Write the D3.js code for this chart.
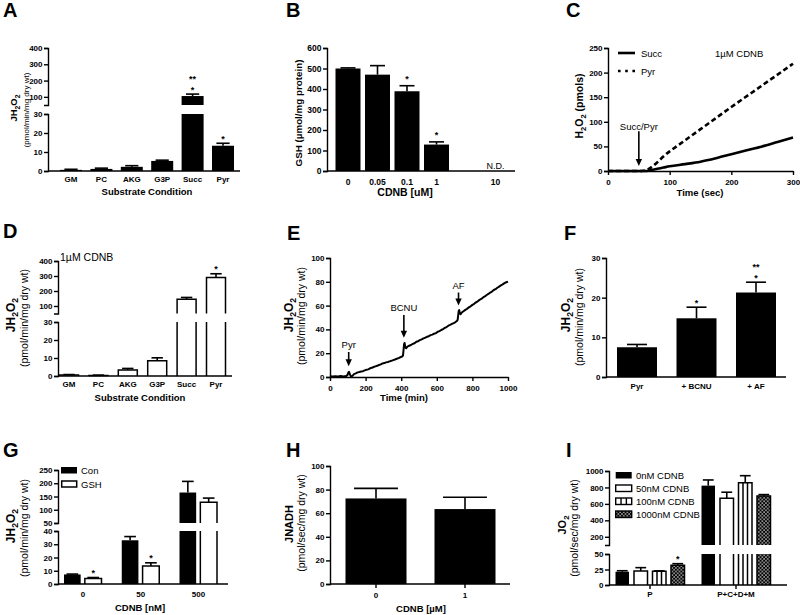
<!DOCTYPE html>
<html><head><meta charset="utf-8">
<script src="https://cdn.jsdelivr.net/npm/d3@7/dist/d3.min.js"></script>
<style>
html,body{margin:0;padding:0;background:#fff;}
svg text{font-family:"Liberation Sans",Arial,Helvetica,sans-serif;}
</style></head><body>
<svg id="chart" width="800" height="615"></svg>
<script>
// ================= DATA =================
// A
const aCats = ["GM","PC","AKG","G3P","Succ","Pyr"];
const aVals = [0.6, 1.1, 2.2, 5.3, 105, 13.3];
const aErrs = [0.3, 0.4, 0.6, 0.4, 12, 1.3];
const aSig  = ["","","","","*|**","*"];
const aLowTicks = [0,10,20,30];
const aUpTicks  = [100,200,300,400];
// B
const bCats = ["0","0.05","0.1","1","10"];
const bVals = [500, 470, 389, 129, null];
const bErrs = [3, 44, 27, 13, null];
const bSig  = ["","","*","*",""];
const bTicks = [0,100,200,300,400,500,600];
// C
const cSucc = [[0,0],[60,0],[65,0.5],[70,2],[80,4.5],[90,7],[100,9.5],[125,14],[150,19],[175,26],[200,34],[225,42],[250,50],[275,59],[300,68]];
const cPyr  = [[0,0],[55,0],[100,40],[150,85],[200,130],[250,174],[300,218]];
const cLegend = ["Succ","Pyr"];
const cXTicks = [0,100,200,300];
const cYTicks = [0,50,100,150,200,250];
const cArrow = {label:"Succ/Pyr", t:50, from:81, to:10};
// D
const dCats = ["GM","PC","AKG","G3P","Succ","Pyr"];
const dVals = [0.5, 0.3, 3.3, 8.5, 145, 290];
const dErrs = [0.3, 0.2, 0.9, 1.6, 12, 25];
const dSig  = ["","","","","","*"];
const dLowTicks = [0,10,20,30];
const dUpTicks  = [100,200,300,400];
// E
const eTrace = [[0,0.6],[15,0.4],[30,0.7],[45,0.5],[60,0.9],[75,0.4],[90,0.8],[98,1.6],[103,3.8],[107,4.3],[112,2.2],[118,0.4],[126,0.9],[135,2.4],[145,3.0],[155,3.9],[165,4.2],[175,4.6],[185,4.9],[195,5.6],[205,6.1],[215,6.4],[225,7.3],[235,7.7],[245,8.4],[255,8.9],[265,9.4],[275,10.1],[285,10.6],[295,11.4],[305,11.7],[315,12.3],[325,12.6],[335,13.1],[345,13.6],[355,14.2],[365,14.7],[375,15.3],[385,15.9],[395,16.6],[405,17.2],[410,18.0],[413,22.5],[416,27.5],[419,28.6],[423,25.0],[428,24.2],[435,25.6],[445,26.3],[455,26.9],[465,27.8],[475,28.4],[485,29.6],[495,30.1],[505,31.0],[515,31.6],[525,32.5],[535,33.0],[545,33.8],[555,34.3],[565,35.2],[575,35.6],[585,36.4],[595,36.9],[605,38.0],[615,38.6],[625,39.5],[635,40.3],[645,41.2],[655,42.0],[665,43.1],[675,43.8],[685,44.6],[695,45.3],[705,46.2],[712,46.9],[717,48.0],[720,51.5],[723,55.5],[726,56.2],[729,53.4],[734,52.8],[740,54.2],[750,55.3],[760,56.4],[770,57.3],[780,58.5],[790,59.4],[800,60.6],[810,61.5],[820,62.7],[830,63.6],[840,64.8],[850,65.6],[860,66.9],[870,67.7],[880,68.9],[890,69.8],[900,71.0],[910,71.8],[920,73.1],[930,73.8],[940,75.0],[950,75.9],[960,77.0],[970,77.8],[980,78.9],[990,79.6],[1000,80.2]];
const eEvents = ["Pyr","BCNU","AF"];
const eEventTime = [105, 415, 722];
const eArrowFrom = [21, 52, 71];
const eArrowTo   = [9, 33, 60];
const eXTicks = [0,200,400,600,800,1000];
const eYTicks = [0,20,40,60,80,100];
// F
const fCats = ["Pyr","+ BCNU","+ AF"];
const fVals = [7.5, 14.8, 21.3];
const fErrs = [0.7, 2.8, 2.6];
const fSig  = ["","*","*|**"];
const fTicks = [0,10,20,30];
// G
const gCats = ["0","50","500"];
const gSeries = ["Con","GSH"];
const gCon    = [7.2, 33, 165];
const gConErr = [0.3, 2.8, 42];
const gGsh    = [4.1, 13.5, 128];
const gGshErr = [0.8, 2.5, 16];
const gGshSig = ["*","*",""];
const gLowTicks = [0,10,20,30,40];
const gUpTicks  = [50,100,150,200,250];
// H
const hCats = ["0","1"];
const hVals = [72.5, 63.5];
const hErrs = [8.5, 10];
const hTicks = [0,20,40,60,80,100];
// I
const iCats = ["P","P+C+D+M"];
const iSeries = ["0nM CDNB","50nM CDNB","100nM CDNB","1000nM CDNB"];
const iP       = [21.4, 22.6, 22, 31.7];
const iPErr    = [1.6, 5.4, 0.8, 2.7];
const iPCDM    = [822, 669, 858, 697];
const iPCDMErr = [69, 73, 85, 16];
const iPSig    = ["","","","*"];
const iLowTicks = [0,25,50];
const iUpTicks  = [200,400,600,800,1000];

// ================= HELPERS =================
const FONT = '"Liberation Sans", Arial, sans-serif';
const svg = d3.select("#chart");
const defs = svg.append("defs");
const pat = defs.append("pattern").attr("id","xhatch").attr("patternUnits","userSpaceOnUse").attr("width",3.6).attr("height",3.6);
pat.append("rect").attr("width",3.6).attr("height",3.6).attr("fill","#000");
pat.append("rect").attr("x",0.3).attr("y",0.3).attr("width",1.3).attr("height",1.3).attr("fill","#fff");
pat.append("rect").attr("x",2.1).attr("y",2.1).attr("width",1.3).attr("height",1.3).attr("fill","#fff");

const SW = 1.4;
function T(x, y, s, o = {}) {
  return svg.append("text").attr("x", x).attr("y", y).text(s)
    .attr("font-family", FONT)
    .attr("font-size", o.size || 9).attr("font-weight", o.bold ? "bold" : "normal")
    .attr("text-anchor", o.anchor || "start").attr("fill", "#000");
}
function rotLabel(x, cy, parts, size, bold) {
  const t = svg.append("text").attr("transform", `translate(${x},${cy}) rotate(-90)`)
    .attr("text-anchor", "middle").attr("font-family", FONT)
    .attr("font-size", size).attr("font-weight", bold ? "bold" : "normal").attr("fill", "#000");
  let sub = false;
  parts.forEach(p => {
    const ts = t.append("tspan").text(p.t);
    if (p.sub) ts.attr("font-size", size * 0.72);
    if (p.sub && !sub) ts.attr("dy", size * 0.28);
    if (!p.sub && sub) ts.attr("dy", -size * 0.28);
    sub = !!p.sub;
  });
  return t;
}
function styleAxis(g, fs) {
  g.attr("font-family", FONT);
  g.select(".domain").attr("stroke", "#000").attr("stroke-width", SW);
  g.selectAll(".tick line").attr("stroke", "#000").attr("stroke-width", SW);
  g.selectAll(".tick text").attr("font-size", fs || 8).attr("font-weight", "bold").attr("fill", "#000").attr("font-family", FONT);
}
function yAxis(x, scale, ticks, fs) {
  const g = svg.append("g").attr("transform", `translate(${x},0)`)
    .call(d3.axisLeft(scale).tickValues(ticks).tickSize(4).tickSizeOuter(4).tickPadding(1.5).tickFormat(d3.format("d")));
  styleAxis(g, fs);
  return g;
}
function xAxisNum(y, scale, ticks, fs) {
  const g = svg.append("g").attr("transform", `translate(0,${y})`)
    .call(d3.axisBottom(scale).tickValues(ticks).tickSize(4).tickSizeOuter(0).tickPadding(4).tickFormat(d3.format("d")));
  styleAxis(g, fs);
  return g;
}
function xLine(x0, x1, y) {
  svg.append("line").attr("x1", x0).attr("x2", x1).attr("y1", y).attr("y2", y)
    .attr("stroke", "#000").attr("stroke-width", SW);
}
function xTick(x, y) {
  svg.append("line").attr("x1", x).attr("x2", x).attr("y1", y).attr("y2", y + 4)
    .attr("stroke", "#000").attr("stroke-width", SW);
}
function vY(v, segs) {
  for (const sg of segs) if (v <= sg.hi) return sg.s(Math.max(v, sg.lo));
  const l = segs[segs.length - 1]; return l.s(v);
}
function bar(cx, w, v, err, segs, style, capFrac) {
  if (v == null) return;
  const x0 = cx - w / 2;
  segs.forEach(sg => {
    if (v <= sg.lo) return;
    const isTop = v <= sg.hi;
    const top = sg.s(Math.min(v, sg.hi)), bot = sg.s(sg.lo);
    if (style === "black") {
      svg.append("rect").attr("x", x0).attr("y", top).attr("width", w).attr("height", bot - top).attr("fill", "#000");
    } else {
      const fill = style === "hatch" ? "url(#xhatch)" : "#fff";
      svg.append("rect").attr("x", x0).attr("y", top).attr("width", w).attr("height", bot - top).attr("fill", fill);
      if (style === "stripes") {
        [1/3, 2/3].forEach(f => svg.append("line").attr("x1", x0 + w*f).attr("x2", x0 + w*f)
          .attr("y1", top).attr("y2", bot).attr("stroke", "#000").attr("stroke-width", 1.5));
      }
      const p = `M${x0},${bot}V${top}` + (isTop ? `H${x0 + w}` : `M${x0 + w},${top}`) + `V${bot}`;
      svg.append("path").attr("d", p).attr("fill", "none").attr("stroke", "#000").attr("stroke-width", 1.5);
    }
  });
  if (err) {
    const y0 = vY(v, segs), y1 = vY(v + err, segs);
    const cw = w * capFrac;
    svg.append("line").attr("x1", cx).attr("x2", cx).attr("y1", y0).attr("y2", y1).attr("stroke", "#000").attr("stroke-width", 1.6);
    svg.append("line").attr("x1", cx - cw / 2).attr("x2", cx + cw / 2).attr("y1", y1).attr("y2", y1).attr("stroke", "#000").attr("stroke-width", 1.6);
  }
}
// significance marks, bottom line first in data
function stars(cx, yTop, sig) {
  if (!sig) return;
  sig.split("|").forEach((s, k) => T(cx, yTop - 1.5 - k * 10.3, s, {size: 9, bold: true, anchor: "middle"}));
}
function arrow(x, y0, y1) {
  svg.append("line").attr("x1", x).attr("x2", x).attr("y1", y0).attr("y2", y1 - 5)
    .attr("stroke", "#000").attr("stroke-width", 1.6);
  svg.append("path").attr("d", `M${x - 3.2},${y1 - 7}L${x + 3.2},${y1 - 7}L${x},${y1}Z`).attr("fill", "#000");
}
const JH2O2 = [{t:"JH"},{t:"2",sub:1},{t:"O"},{t:"2",sub:1}];

// ================= PANEL A =================
{
  const x = d3.scalePoint().domain(aCats).range([71, 223]);
  const low = d3.scaleLinear().domain([0, 30]).range([171, 114]);
  const up = d3.scaleLinear().domain([50, 400]).range([105, 48]);
  const segs = [{s: low, lo: 0, hi: 30}, {s: up, lo: 50, hi: 400}];
  aCats.forEach((c, i) => {
    bar(x(c), 22, aVals[i], aErrs[i], segs, "black", 0.6);
    stars(x(c), vY(aVals[i] + aErrs[i], segs), aSig[i]);
  });
  yAxis(48, low, aLowTicks, 8); yAxis(48, up, aUpTicks, 8);
  xLine(48, 240, 171);
  aCats.forEach(c => T(x(c), 182, c, {size: 8, bold: true, anchor: "middle"}));
  T(147, 195, "Substrate Condition", {size: 9.5, bold: true, anchor: "middle"});
  rotLabel(17, 108, JH2O2, 9.5, true);
  rotLabel(28.5, 110, [{t:"(pmol/min/mg dry wt)"}], 8, false);
  T(3, 17, "A", {size: 20, bold: true});
}
// ================= PANEL B =================
{
  // an empty slot sits between "1" and "10" on the category axis
  const slots = bCats.slice(0, 4).concat([" "], bCats.slice(4));
  const x = d3.scalePoint().domain(slots).range([348, 495.5]);
  const y = d3.scaleLinear().domain([0, 600]).range([171, 48]);
  const segs = [{s: y, lo: 0, hi: 600}];
  bCats.forEach((c, i) => {
    if (bVals[i] == null) { T(x(c), 169, "N.D.", {size: 9, anchor: "middle"}); return; }
    bar(x(c), 25, bVals[i], bErrs[i], segs, "black", 0.6);
    stars(x(c), vY(bVals[i] + bErrs[i], segs) - 2, bSig[i]);
  });
  yAxis(327, y, bTicks, 8.5);
  xLine(327, 515, 171);
  bCats.forEach(c => T(x(c), 185, c, {size: 8.5, bold: true, anchor: "middle"}));
  T(405, 196, "CDNB [uM]", {size: 10.5, bold: true, anchor: "middle"});
  rotLabel(302, 113, [{t:"GSH (µmol/mg protein)"}], 9.8, true);
  T(286, 17, "B", {size: 20, bold: true});
}
// ================= PANEL C =================
{
  const x = d3.scaleLinear().domain([0, 300]).range([608, 793]);
  const y = d3.scaleLinear().domain([0, 250]).range([171, 48]);
  const line = d3.line().x(d => x(d[0])).y(d => y(d[1])).curve(d3.curveMonotoneX);
  svg.append("path").attr("d", line(cPyr)).attr("fill", "none").attr("stroke", "#000").attr("stroke-width", 2.6).attr("stroke-dasharray", "5,3");
  svg.append("path").attr("d", line(cSucc)).attr("fill", "none").attr("stroke", "#000").attr("stroke-width", 2.6);
  yAxis(608, y, cYTicks, 8);
  xAxisNum(171, x, cXTicks, 8);
  // legend
  svg.append("line").attr("x1", 618).attr("x2", 635).attr("y1", 53).attr("y2", 53).attr("stroke", "#000").attr("stroke-width", 2.6);
  svg.append("line").attr("x1", 618).attr("x2", 636).attr("y1", 71).attr("y2", 71).attr("stroke", "#000").attr("stroke-width", 2.6).attr("stroke-dasharray", "2.6,4.6");
  T(641, 56.5, cLegend[0], {size: 9.5});
  T(641, 74.5, cLegend[1], {size: 9.5});
  T(715, 56.5, "1µM CDNB", {size: 9.5});
  T(x(cArrow.t), 129.5, cArrow.label, {size: 9.5, anchor: "middle"});
  arrow(x(cArrow.t), y(cArrow.from), y(cArrow.to));
  T(700, 196, "Time (sec)", {size: 9.5, bold: true, anchor: "middle"});
  rotLabel(583, 106, [{t:"H"},{t:"2",sub:1},{t:"O"},{t:"2",sub:1},{t:" (pmols)"}], 10.5, true);
  T(566, 17, "C", {size: 20, bold: true});
}
// ================= PANEL D =================
{
  const x = d3.scalePoint().domain(dCats).range([69, 216]);
  const low = d3.scaleLinear().domain([0, 30]).range([376, 322]);
  const up = d3.scaleLinear().domain([50, 400]).range([313.5, 261]);
  const segs = [{s: low, lo: 0, hi: 30}, {s: up, lo: 50, hi: 400}];
  dCats.forEach((c, i) => {
    bar(x(c), 19, dVals[i], dErrs[i], segs, "white", 0.6);
    stars(x(c), vY(dVals[i] + dErrs[i], segs), dSig[i]);
  });
  yAxis(58, low, dLowTicks, 8); yAxis(58, up, dUpTicks, 8);
  xLine(58, 232, 376);
  dCats.forEach(c => T(x(c), 387, c, {size: 8, bold: true, anchor: "middle"}));
  T(140, 401, "Substrate Condition", {size: 9.5, bold: true, anchor: "middle"});
  T(60, 261, "1µM CDNB", {size: 10.5});
  rotLabel(15, 315, JH2O2, 12, true);
  rotLabel(28, 318, [{t:"(pmol/min/mg dry wt)"}], 10.5, false);
  T(3, 238, "D", {size: 20, bold: true});
}
// ================= PANEL E =================
{
  const x = d3.scaleLinear().domain([0, 1000]).range([330, 508]);
  const y = d3.scaleLinear().domain([0, 100]).range([377, 258]);
  const line = d3.line().x(d => x(d[0])).y(d => y(d[1]));
  svg.append("path").attr("d", line(eTrace)).attr("fill", "none").attr("stroke", "#000").attr("stroke-width", 2).attr("stroke-linejoin", "round");
  yAxis(330, y, eYTicks, 8);
  xAxisNum(377, x, eXTicks, 8);
  eEvents.forEach((ev, i) => {
    const ax = x(eEventTime[i]);
    arrow(ax, y(eArrowFrom[i]), y(eArrowTo[i]));
    T(ax, y(eArrowFrom[i]) - 4, ev, {size: 9.5, anchor: "middle"});
  });
  T(404, 401, "Time (min)", {size: 9.5, bold: true, anchor: "middle"});
  rotLabel(293, 315, JH2O2, 12, true);
  rotLabel(305, 316, [{t:"(pmol/min/mg dry wt)"}], 10.5, false);
  T(287, 240, "E", {size: 20, bold: true});
}
// ================= PANEL F =================
{
  const x = d3.scalePoint().domain(fCats).range([637, 756]);
  const y = d3.scaleLinear().domain([0, 30]).range([377, 258]);
  const segs = [{s: y, lo: 0, hi: 30}];
  fCats.forEach((c, i) => {
    bar(x(c), 40, fVals[i], fErrs[i], segs, "black", 0.5);
    stars(x(c), vY(fVals[i] + fErrs[i], segs), fSig[i]);
  });
  yAxis(606, y, fTicks, 8);
  xLine(606, 786, 377);
  fCats.forEach(c => T(x(c), 389, c, {size: 8, bold: true, anchor: "middle"}));
  rotLabel(570, 315, JH2O2, 12, true);
  rotLabel(583, 317, [{t:"(pmol/min/mg dry wt)"}], 10.5, false);
  T(564, 240, "F", {size: 20, bold: true});
}
// ================= PANEL G =================
{
  const x = d3.scalePoint().domain(gCats).range([83, 198.5]);
  const sub = d3.scaleBand().domain(gSeries).range([-19, 18.5]).paddingInner(0.2);
  const low = d3.scaleLinear().domain([0, 40]).range([584, 531]);
  const up = d3.scaleLinear().domain([50, 250]).range([523, 470]);
  const segs = [{s: low, lo: 0, hi: 40}, {s: up, lo: 50, hi: 250}];
  const bw = sub.bandwidth();
  gCats.forEach((c, i) => {
    const cx1 = x(c) + sub("Con") + bw / 2, cx2 = x(c) + sub("GSH") + bw / 2;
    bar(cx1, bw, gCon[i], gConErr[i], segs, "black", 0.7);
    bar(cx2, bw, gGsh[i], gGshErr[i], segs, "white", 0.7);
    stars(cx2, vY(gGsh[i] + gGshErr[i], segs), gGshSig[i]);
  });
  yAxis(58, low, gLowTicks, 8); yAxis(58, up, gUpTicks, 8);
  xLine(58, 228, 584);
  gCats.forEach(c => T(x(c), 597, c, {size: 8, bold: true, anchor: "middle"}));
  T(140, 611, "CDNB [nM]", {size: 9.5, bold: true, anchor: "middle"});
  // legend
  svg.append("rect").attr("x", 61).attr("y", 467).attr("width", 16).attr("height", 6.5).attr("fill", "#000");
  svg.append("rect").attr("x", 61.7).attr("y", 481).attr("width", 15).attr("height", 6).attr("fill", "#fff").attr("stroke", "#000").attr("stroke-width", 1.5);
  T(81, 474, gSeries[0], {size: 9.5});
  T(81, 488, gSeries[1], {size: 9.5});
  rotLabel(15, 526, JH2O2, 12, true);
  rotLabel(28, 528, [{t:"(pmol/min/mg dry wt)"}], 10.5, false);
  T(3, 457, "G", {size: 20, bold: true});
}
// ================= PANEL H =================
{
  const x = d3.scalePoint().domain(hCats).range([376, 465]);
  const y = d3.scaleLinear().domain([0, 100]).range([584, 466]);
  const segs = [{s: y, lo: 0, hi: 100}];
  hCats.forEach((c, i) => bar(x(c), 61, hVals[i], hErrs[i], segs, "black", 0.72));
  yAxis(330, y, hTicks, 8);
  xLine(330, 510, 584);
  hCats.forEach(c => { xTick(x(c), 584); T(x(c), 598, c, {size: 8, bold: true, anchor: "middle"}); });
  T(421, 612, "CDNB [µM]", {size: 9.5, bold: true, anchor: "middle"});
  rotLabel(293, 524, [{t:"JNADH"}], 11, true);
  rotLabel(305, 523, [{t:"(pmol/sec/mg dry wt)"}], 10.5, false);
  T(286, 457, "H", {size: 20, bold: true});
}
// ================= PANEL I =================
{
  const x = d3.scalePoint().domain(iCats).range([650, 736]);
  const sub = d3.scaleBand().domain(iSeries).range([-34.5, 34.5]).paddingInner(0.27);
  const low = d3.scaleLinear().domain([0, 50]).range([585, 554]);
  const up = d3.scaleLinear().domain([100, 1000]).range([545, 471]);
  const segs = [{s: low, lo: 0, hi: 50}, {s: up, lo: 100, hi: 1000}];
  const styles = ["black", "white", "stripes", "hatch"];
  const bw = sub.bandwidth();
  iSeries.forEach((s, k) => {
    const c1 = x("P") + sub(s) + bw / 2, c2 = x("P+C+D+M") + sub(s) + bw / 2;
    bar(c1, bw, iP[k], iPErr[k], segs, styles[k], 0.8);
    stars(c1, vY(iP[k] + iPErr[k], segs), iPSig[k]);
    bar(c2, bw, iPCDM[k], iPCDMErr[k], segs, styles[k], 0.8);
  });
  yAxis(609, low, iLowTicks, 8); yAxis(609, up, iUpTicks, 8);
  xLine(609, 787, 585);
  iCats.forEach(c => { xTick(x(c), 585); T(x(c), 597, c, {size: 8, bold: true, anchor: "middle"}); });
  // legend
  iSeries.forEach((s, k) => {
    const ty = 472 + k * 13;
    const st = styles[k];
    const r = svg.append("rect").attr("x", 615.7).attr("y", ty).attr("width", 16).attr("height", 6.5);
    if (st === "black") r.attr("fill", "#000");
    else {
      r.attr("fill", st === "hatch" ? "url(#xhatch)" : "#fff").attr("stroke", "#000").attr("stroke-width", 1.4);
      if (st === "stripes") [1/3, 2/3].forEach(f => svg.append("line").attr("x1", 615.7 + 16*f).attr("x2", 615.7 + 16*f)
        .attr("y1", ty).attr("y2", ty + 6.5).attr("stroke", "#000").attr("stroke-width", 1.4));
    }
    T(636, ty + 7, s, {size: 9.5});
  });
  rotLabel(566, 525, [{t:"JO"},{t:"2",sub:1}], 11, true);
  rotLabel(578, 528, [{t:"(pmol/sec/mg dry wt)"}], 10.5, false);
  T(566, 457, "I", {size: 20, bold: true});
}
</script>
</body></html>
